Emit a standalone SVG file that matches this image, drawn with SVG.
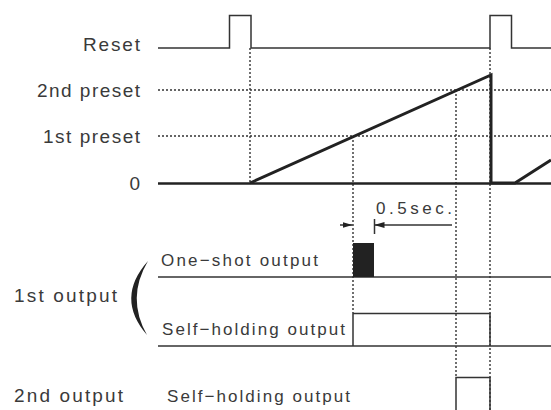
<svg xmlns="http://www.w3.org/2000/svg" width="551" height="410" viewBox="0 0 551 410">
<style>
text{font-family:"Liberation Sans",Arial,sans-serif;fill:#3a3a3a}
.lbl{font-size:19px}
.sm{font-size:17px}
.thin{fill:none;stroke:#333;stroke-width:1.5}
.thick{fill:none;stroke:#222;stroke-width:3}
.dot{fill:none;stroke:#333;stroke-width:1.4;stroke-dasharray:2 2}
</style>
<defs>
<marker id="ah" viewBox="0 0 10 6" refX="10" refY="3" markerWidth="10" markerHeight="6" markerUnits="userSpaceOnUse" orient="auto">
<path d="M0,0 L10,3 L0,6 Z" fill="#222"/>
</marker>
</defs>
<g id="labels">
<text class="lbl" x="140" y="51" text-anchor="end" textLength="57" lengthAdjust="spacing">Reset</text>
<text class="lbl" x="140" y="97" text-anchor="end" textLength="103" lengthAdjust="spacing">2nd preset</text>
<text class="lbl" x="140" y="143" text-anchor="end" textLength="97" lengthAdjust="spacing">1st preset</text>
<text class="lbl" x="140" y="190" text-anchor="end">0</text>
<text class="lbl" x="14" y="302" textLength="103" lengthAdjust="spacing">1st output</text>
<text class="lbl" x="14" y="402" textLength="109" lengthAdjust="spacing">2nd output</text>
<text class="sm" x="161" y="266" textLength="157" lengthAdjust="spacing">One−shot output</text>
<text class="sm" x="162" y="335" textLength="183" lengthAdjust="spacing">Self−holding output</text>
<text class="sm" x="167" y="402" textLength="183" lengthAdjust="spacing">Self−holding output</text>
<text class="sm" x="376" y="214" textLength="76" lengthAdjust="spacing">0.5sec.</text>
</g>
<g id="connectors">
<line class="dot" x1="158" y1="90" x2="551" y2="90"/>
<line class="dot" x1="158" y1="136" x2="551" y2="136"/>
<line class="dot" x1="250" y1="48" x2="250" y2="183"/>
<line class="dot" x1="353" y1="136" x2="353" y2="313"/>
<line class="dot" x1="456" y1="90" x2="456" y2="377"/>
<line class="dot" x1="490" y1="48" x2="490" y2="410"/>
</g>
<g id="reset">
<path class="thin" d="M158,48 H229.5 V15.5 H251 V48 H490 V15.5 H511.5 V48 H551"/>
</g>
<g id="counter">
<line x1="158" y1="183.5" x2="551" y2="183.5" stroke="#222" stroke-width="2.5"/>
<path class="thick" d="M250,183 L491,75 V183 H515 L551,160"/>
</g>
<g id="dimension">
<line class="thin" x1="340" y1="225" x2="352.5" y2="225" marker-end="url(#ah)" stroke-width="1.2"/>
<line class="thin" x1="452" y1="225" x2="374.5" y2="225" marker-end="url(#ah)" stroke-width="1.2"/>
<line class="thin" x1="374.5" y1="219" x2="374.5" y2="234" stroke-width="1.2"/>
</g>
<g id="one-shot">
<line class="thin" x1="158" y1="277" x2="551" y2="277"/>
<rect x="353" y="243" width="21" height="34" fill="#222"/>
</g>
<g id="self-holding-1">
<line class="thin" x1="158" y1="346" x2="551" y2="346"/>
<path class="thin" stroke-width="2" d="M353,346 V313.5 H490 V346"/>
</g>
<g id="bracket">
<path d="M148,261 Q115,298 147,335 Q126,298 148,261 Z" fill="#222"/>
</g>
<g id="self-holding-2">
<path class="thin" stroke-width="2" d="M456,410 V377.5 H490 V410"/>
</g>
</svg>
